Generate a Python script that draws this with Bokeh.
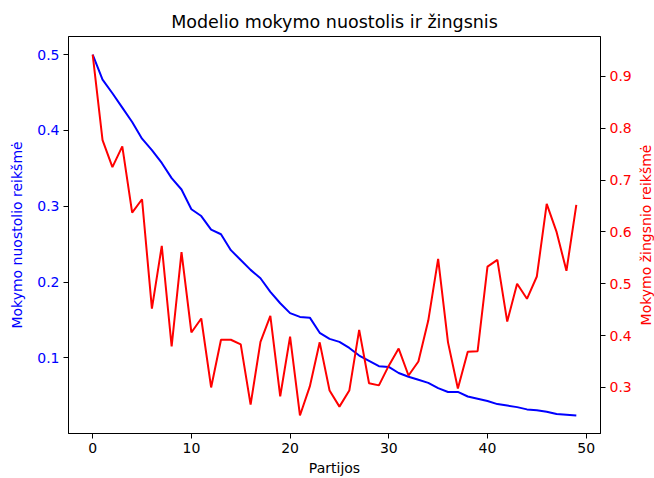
import math
from bokeh.plotting import figure
from bokeh.layouts import row
from bokeh.models import Range1d, LinearAxis, FixedTicker
from bokeh.core.properties import value
from bokeh.embed import file_html
from bokeh.resources import INLINE

epochs = list(range(50))
loss = [0.500, 0.467, 0.449, 0.430, 0.411, 0.389, 0.374, 0.357, 0.337, 0.322,
        0.296, 0.287, 0.269, 0.263, 0.242, 0.229, 0.216, 0.205, 0.187, 0.172,
        0.159, 0.154, 0.153, 0.133, 0.125, 0.121, 0.113, 0.103, 0.096, 0.089,
        0.088, 0.080, 0.075, 0.071, 0.067, 0.060, 0.055, 0.055, 0.049, 0.046,
        0.043, 0.039, 0.037, 0.035, 0.032, 0.031, 0.029, 0.026, 0.025, 0.024]
step = [0.942, 0.777, 0.725, 0.765, 0.637, 0.663, 0.452, 0.573, 0.379, 0.561,
        0.406, 0.433, 0.300, 0.392, 0.392, 0.383, 0.267, 0.388, 0.438, 0.283,
        0.398, 0.246, 0.302, 0.387, 0.294, 0.263, 0.294, 0.411, 0.308, 0.304,
        0.342, 0.375, 0.323, 0.350, 0.429, 0.548, 0.387, 0.298, 0.369, 0.370,
        0.533, 0.546, 0.427, 0.500, 0.471, 0.514, 0.654, 0.600, 0.525, 0.652]
x_ticks = [0, 10, 20, 30, 40, 50]
left_ticks = [0.1, 0.2, 0.3, 0.4, 0.5]
right_ticks = [0.3, 0.4, 0.5, 0.6, 0.7, 0.8, 0.9]
title_text = "Modelio mokymo nuostolis ir žingsnis"
x_label = "Partijos"
left_label = "Mokymo nuostolio reikšmė"
right_label = "Mokymo žingsnio reikšmė"

FONT = "DejaVu Sans"
W, H = 654, 478
SIDE_W = 18
BL, BR, BT, BB = 68, 36, 36, 44

def pad(lo, hi, f=0.05):
    r = hi - lo
    return lo - f * r, hi + f * r

x0, x1 = pad(min(epochs), max(epochs))
l0, l1 = pad(min(loss), max(loss))
r0, r1 = pad(min(step), max(step))

p = figure(width=W - SIDE_W, height=H, output_backend="svg", toolbar_location=None,
           x_range=Range1d(x0, x1), y_range=Range1d(l0, l1),
           title=title_text,
           min_border_left=BL, min_border_right=BR, min_border_top=BT,
           min_border_bottom=BB)
p.extra_y_ranges = {"r": Range1d(r0, r1)}

p.title.align = "center"
p.title.text_font = FONT
p.title.text_font_size = "17.5px"
p.title.text_font_style = "normal"
p.title.text_color = "black"

p.outline_line_color = "black"
p.outline_line_width = 1
p.xgrid.visible = False
p.ygrid.visible = False

p.line(epochs, loss, line_color="#0000ff", line_width=2)
p.line(epochs, step, line_color="#ff0000", line_width=2, y_range_name="r")

right = LinearAxis(y_range_name="r")
p.add_layout(right, "right")

def style(ax, color, label, ticks):
    ax.ticker = FixedTicker(ticks=ticks)
    ax.axis_label = label
    ax.axis_label_text_font = FONT
    ax.axis_label_text_font_size = "14px"
    ax.axis_label_text_font_style = "normal"
    ax.axis_label_text_color = color
    ax.major_label_text_font = FONT
    ax.major_label_text_font_size = "14px"
    ax.major_label_text_color = color
    ax.major_tick_out = 5
    ax.major_tick_in = 0
    ax.minor_tick_out = 0
    ax.minor_tick_in = 0
    ax.major_tick_line_color = "black"
    ax.axis_line_color = "black"
    ax.major_label_standoff = 4

style(p.xaxis[0], "black", x_label, x_ticks)
style(p.yaxis[0], "#0000ff", left_label, left_ticks)
style(right, "#ff0000", None, right_ticks)
p.xaxis[0].axis_label_standoff = 4
p.yaxis[0].axis_label_standoff = 9

# narrow side panel holding the right-hand axis title (reads bottom-to-top)
side = figure(width=SIDE_W, height=H, output_backend="svg", toolbar_location=None,
              x_range=Range1d(0, 1), y_range=Range1d(0, 1),
              x_axis_type=None, y_axis_type=None,
              min_border_left=0, min_border_right=0, min_border_top=BT,
              min_border_bottom=BB)
side.outline_line_color = None
side.xgrid.visible = False
side.ygrid.visible = False
side.text(x=[0.5], y=[0.5], text=[right_label], angle=math.pi / 2,
          text_align="center", text_baseline="middle",
          text_font=value(FONT), text_font_size="14px", text_color="#ff0000")

layout = row(p, side, spacing=0)
open("out.html", "w").write(file_html(layout, INLINE))
